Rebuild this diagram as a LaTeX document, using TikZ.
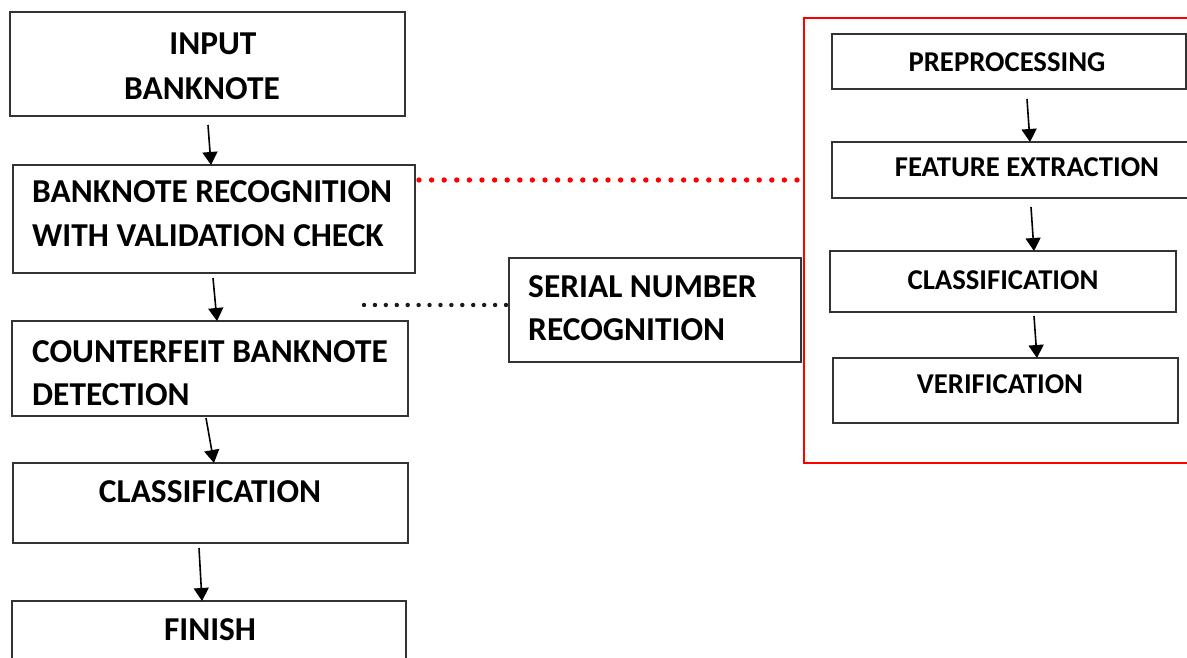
\documentclass[tikz,border=0pt]{standalone}
\usepackage{fontspec}
\setmainfont{Carlito}
\usetikzlibrary{arrows.meta,calc}
\begin{document}
\begin{tikzpicture}[x=1pt,y=-1pt,
  box/.style={draw=black!80,line width=1.8pt,inner sep=0pt,outer sep=0pt},
  bigtxt/.style={font=\fontsize{33.4}{38}\selectfont\bfseries,inner sep=0pt,text=black},
  smalltxt/.style={font=\fontsize{28.7}{33}\selectfont\bfseries,inner sep=0pt,text=black},
  flow/.style={line width=1.6pt,draw=black,-{Triangle[width=15pt,length=13pt]}},
  reddot/.style={fill=red,draw=none},
  blackdot/.style={fill=black!90,draw=none}]
\useasboundingbox (0,0) rectangle (1187,658);
\clip (0,0) rectangle (1187,658);

% main flow on the left
\node[box,minimum width=395pt,minimum height=104pt] (in)  at (207.5,64)  {};
\node[box,minimum width=402pt,minimum height=108pt] (rec) at (214,219)   {};
\node[box,minimum width=396pt,minimum height=95pt]  (cf)  at (210,368.5) {};
\node[box,minimum width=395pt,minimum height=80pt]  (cls) at (210.5,503) {};
\node[box,minimum width=394pt,minimum height=100pt] (fin) at (209,651)   {};

\node[bigtxt,anchor=base] (tin1) at (213,55)  {INPUT};
\node[bigtxt,anchor=base] (tin2) at (202,100) {BANKNOTE};
\node[bigtxt,anchor=base west] (trec1) at (32,203) {BANKNOTE RECOGNITION};
\node[bigtxt,anchor=base west] (trec2) at (32,247) {WITH VALIDATION CHECK};
\node[bigtxt,anchor=base west] (tcf1) at (32,362) {COUNTERFEIT BANKNOTE};
\node[bigtxt,anchor=base west] (tcf2) at (32,405) {DETECTION};
\node[bigtxt,anchor=base] (tcls) at (210,502) {CLASSIFICATION};
\node[bigtxt,anchor=base] (tfin) at (210,640) {FINISH};

% serial number branch
\node[box,minimum width=292pt,minimum height=104pt] (ser) at (655,310) {};
\node[bigtxt,anchor=base west] (tser1) at (528,297) {SERIAL NUMBER};
\node[bigtxt,anchor=base west] (tser2) at (528,340) {RECOGNITION};

% recognition details
\node[draw=red,line width=2.8pt,inner sep=0pt,outer sep=0pt,
      minimum width=396pt,minimum height=445pt] (grp) at (1002,240.5) {};
\node[box,minimum width=354pt,minimum height=55pt] (pre)  at (1009,61.5)  {};
\node[box,minimum width=358pt,minimum height=56pt] (fe)   at (1011,170)   {};
\node[box,minimum width=346pt,minimum height=61pt] (rcls) at (1003,281.5) {};
\node[box,minimum width=345pt,minimum height=65pt] (ver)  at (1005.5,390.5) {};

\node[smalltxt,anchor=base] (tpre)  at (1007,72)  {PREPROCESSING};
\node[smalltxt,anchor=base] (tfe)   at (1027,177) {FEATURE EXTRACTION};
\node[smalltxt,anchor=base] (trcls) at (1003,289) {CLASSIFICATION};
\node[smalltxt,anchor=base] (tver)  at (1000,393) {VERIFICATION};

% arrows
\draw[flow] ($(in.south west)+(198,9)$)  -- ($(rec.north west)+(198,0)$);
\draw[flow] ($(rec.south west)+(200,5)$) -- ($(cf.north west)+(205,0)$);
\draw[flow] ($(cf.south west)+(194,2)$)  -- ($(cls.north west)+(201,0)$);
\draw[flow] ($(cls.south west)+(186,5)$) -- ($(fin.north west)+(190,0)$);

\draw[flow] ($(pre.south west)+(195,10)$) -- ($(fe.north west)+(198,0)$);
\draw[flow] ($(fe.south west)+(199,9)$)   -- ($(rcls.north west)+(204,0)$);
\draw[flow] ($(rcls.south west)+(204,4)$) -- ($(ver.north west)+(204,0)$);

% dotted links, drawn dot by dot
\coordinate (redstart) at ($(rec.north east)+(4,15)$);
\coordinate (redend) at ($(redstart -| grp.west)+(-7,0)$);
\foreach \i in {0,...,30}
  \fill[reddot] ($(redstart)!\i/30!(redend)$) circle[radius=2.7pt];
\coordinate (serstart) at (364,305);
\coordinate (serend) at ($(serstart -| ser.west)+(-3,0)$);
\foreach \i in {0,...,13}
  \fill[blackdot] ($(serstart)!\i/13!(serend)$) circle[radius=2.2pt];
\end{tikzpicture}
\end{document}
